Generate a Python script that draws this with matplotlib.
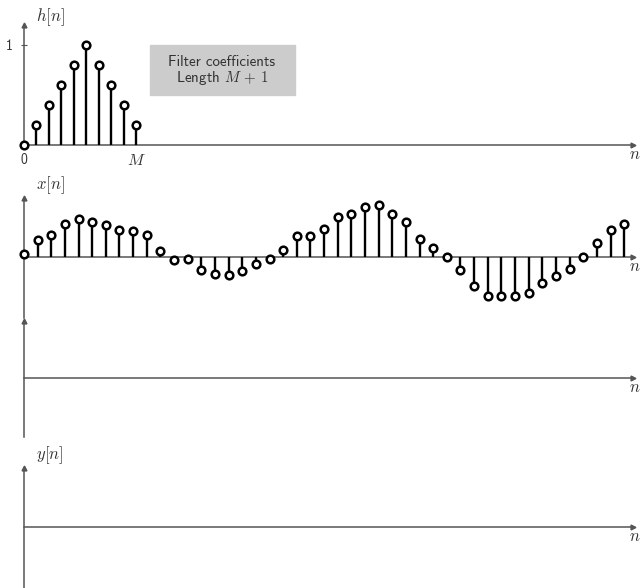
import matplotlib.pyplot as plt
from matplotlib.patches import Rectangle

plt.rcParams['mathtext.fontset'] = 'cm'

# filter taps h[n], n = 0..M
h = [0, 0.2, 0.4, 0.6, 0.8, 1.0, 0.8, 0.6, 0.4, 0.2]
M = len(h) - 1

# input samples x[n]
x = [0.03, 0.17, 0.22, 0.33, 0.38, 0.35, 0.32, 0.27, 0.26, 0.22,
     0.06, -0.03, -0.02, -0.13, -0.17, -0.18, -0.14, -0.07, -0.02, 0.07,
     0.21, 0.21, 0.28, 0.40, 0.43, 0.50, 0.52, 0.43, 0.35, 0.18,
     0.09, 0.0, -0.13, -0.29, -0.39, -0.39, -0.39, -0.36, -0.26, -0.19,
     -0.12, 0.0, 0.14, 0.27, 0.33]

W, H = 642, 588
X0, X1 = 24, 633          # vertical axis / arrow tip, in pixels
AX_COL = '#555555'
TXT_COL = '#333333'

fig = plt.figure(figsize=(W / 100, H / 100), dpi=100)


def panel(zero, top, bottom, step, label=None, label_dy=12):
    """One stem plot: zero line at pixel row `zero`, y axis from `bottom` up to `top`."""
    ax = fig.add_axes([X0 / W, (H - bottom) / H, (X1 - X0) / W, (bottom - top) / H])
    ax.set_xlim(0, (X1 - X0) / step)
    ax.set_ylim(-(bottom - zero) / 100, (zero - top) / 100)
    for s in ax.spines.values():
        s.set_visible(False)
    ax.set_xticks([])
    ax.set_yticks([])
    ax.patch.set_alpha(0)

    # axes with arrow heads
    ax.axhline(0, color=AX_COL, lw=1.1, zorder=1, clip_on=False)
    ax.axvline(0, color=AX_COL, lw=1.1, zorder=1, clip_on=False)
    ax.plot([1], [0], marker='>', ms=3.5, color=AX_COL,
            transform=ax.get_yaxis_transform(), clip_on=False)
    ax.plot([0], [1], marker='^', ms=3.5, color=AX_COL,
            transform=ax.get_xaxis_transform(), clip_on=False)
    ax.annotate('$n$', xy=(1, 0), xycoords=ax.get_yaxis_transform(),
                xytext=(2, -9), textcoords='offset pixels',
                ha='center', va='center', fontsize=12, color=TXT_COL)
    if label:
        ax.annotate(label, xy=(0, 1), xycoords='axes fraction',
                    xytext=(12, label_dy), textcoords='offset pixels',
                    ha='left', va='center', fontsize=12, color=TXT_COL)
    return ax


def stems(ax, vals):
    n = range(len(vals))
    ax.vlines(n, 0, vals, color='black', lw=1.7, zorder=2, clip_on=False)
    ax.plot(n, vals, 'o', ms=5.5, mew=1.8, mec='black', mfc='white',
            zorder=3, clip_on=False)


# filter coefficients
ax_h = panel(145, 25, 145, 12.47, '$h[n]$', label_dy=8)
stems(ax_h, h)
ax_h.set_yticks([1])
ax_h.set_yticklabels(['1'], fontfamily='cmss10', fontsize=10, color=TXT_COL)
ax_h.tick_params(axis='y', direction='inout', length=4, width=0.8,
                 color=AX_COL, pad=6)
ax_h.set_xticks([0, M])
ax_h.set_xticklabels(['0', '$M$'], fontsize=11.5, color=TXT_COL)
ax_h.get_xticklabels()[0].set_fontfamily('cmss10')
ax_h.get_xticklabels()[0].set_fontsize(10)
ax_h.tick_params(axis='x', length=0, pad=5.5)

# input signal
ax_x = panel(257.3, 198, 318, 13.64, '$x[n]$', label_dy=13)
stems(ax_x, x)

# empty panel and output
panel(377.7, 321, 437, 13.64)
panel(526.7, 468, 590, 13.64, '$y[n]$', label_dy=13)

# caption box
fig.add_artist(Rectangle((150 / W, 1 - 95 / H), 145 / W, 50 / H,
                         transform=fig.transFigure, color='#cccccc', zorder=0))
fig.text(222 / W, 1 - 62 / H, 'Filter coefficients', ha='center', va='center',
         fontfamily='cmss10', fontsize=10.8, color=TXT_COL)
fig.text(222 / W, 1 - 78 / H, r'Length $M\,+\,1$', ha='center', va='center',
         fontfamily='cmss10', fontsize=10.8, color=TXT_COL)

fig.savefig('out.png', dpi=100)
